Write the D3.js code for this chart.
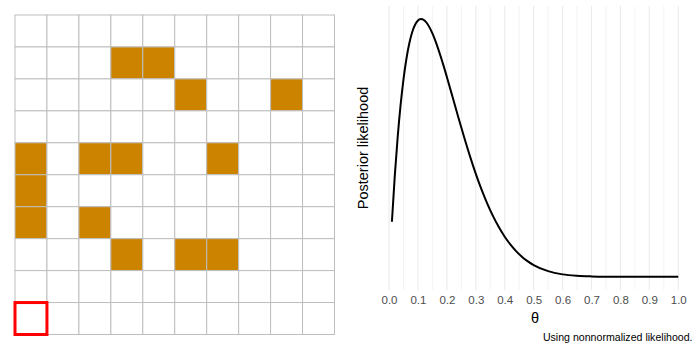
<!DOCTYPE html>
<html>
<head>
<meta charset="utf-8">
<script src="https://cdn.jsdelivr.net/npm/d3@7"></script>
<style>
  body { margin: 0; background: #fff; }
  svg { display: block; font-family: "Liberation Sans", Arial, sans-serif; }
</style>
</head>
<body>
<svg id="chart" width="700" height="350"></svg>
<script>
// grid of draws: rows counted from the top, columns from the left
const gridRows = d3.range(10);
const gridCols = d3.range(10);
const filledCells = [
  [1, 3], [1, 4],
  [2, 5], [2, 8],
  [4, 0], [4, 2], [4, 3], [4, 6],
  [5, 0],
  [6, 0], [6, 2],
  [7, 3], [7, 5], [7, 6]
];
const highlightCell = [9, 0];

// posterior curve (nonnormalized)
const theta = [0.01, 0.02, 0.03, 0.04, 0.05, 0.06, 0.07, 0.08, 0.09, 0.10,
  0.11, 0.12, 0.13, 0.14, 0.15, 0.16, 0.17, 0.18, 0.19, 0.20,
  0.22, 0.24, 0.26, 0.28, 0.30, 0.32, 0.34, 0.36, 0.38, 0.40,
  0.42, 0.44, 0.46, 0.48, 0.50, 0.55, 0.60, 0.65, 0.70, 0.75,
  0.80, 0.85, 0.90, 0.95, 1.00];
const likelihood = [0.00923, 0.01702, 0.02351, 0.02886, 0.03317, 0.03658, 0.03917, 0.04106, 0.04234, 0.04305,
  0.04330, 0.04316, 0.04267, 0.04189, 0.04087, 0.03966, 0.03828, 0.03678, 0.03521, 0.03355,
  0.03014, 0.02671, 0.02338, 0.02022, 0.01729, 0.01463, 0.01224, 0.01013, 0.00830, 0.00672,
  0.00538, 0.00426, 0.00333, 0.00257, 0.00195, 0.00093, 0.00039, 0.00015, 0.00005, 0.00001,
  0.000002, 0, 0, 0, 0];
const xTicks = [0, 0.1, 0.2, 0.3, 0.4, 0.5, 0.6, 0.7, 0.8, 0.9, 1.0];
const xMinor = [0.05, 0.15, 0.25, 0.35, 0.45, 0.55, 0.65, 0.75, 0.85, 0.95];

const svg = d3.select("#chart");

// ---- left panel: the grid ----
const gx = d3.scaleBand().domain(gridCols).range([15, 334.5]).padding(0);
const gy = d3.scaleBand().domain(gridRows).range([15, 334.5]).padding(0);

const cells = [];
gridRows.forEach(r => gridCols.forEach(c => {
  const filled = filledCells.some(f => f[0] === r && f[1] === c);
  cells.push({ r, c, filled });
}));

const left = svg.append("g");
left.selectAll("rect.cell")
  .data(cells)
  .join("rect")
  .attr("class", "cell")
  .attr("x", d => gx(d.c))
  .attr("y", d => gy(d.r))
  .attr("width", gx.bandwidth())
  .attr("height", gy.bandwidth())
  .attr("fill", d => d.filled ? "#CC8400" : "#fff")
  .attr("stroke", "#BEBEBE")
  .attr("stroke-width", 1);

left.append("rect")
  .attr("x", gx(highlightCell[1]))
  .attr("y", gy(highlightCell[0]))
  .attr("width", gx.bandwidth())
  .attr("height", gy.bandwidth())
  .attr("fill", "none")
  .attr("stroke", "#FF0000")
  .attr("stroke-width", 3);

// ---- right panel: posterior ----
const x = d3.scaleLinear().domain([-0.0395, 1.0495]).range([377.6, 692.6]);
const y = d3.scaleLinear().domain([0, 0.0433]).range([276.7, 19]);
const panelTop = 6, panelBottom = 290;

const right = svg.append("g");

right.selectAll("line.minor")
  .data(xMinor)
  .join("line")
  .attr("class", "minor")
  .attr("x1", d => x(d)).attr("x2", d => x(d))
  .attr("y1", panelTop).attr("y2", panelBottom)
  .attr("stroke", "#EBEBEB")
  .attr("stroke-width", 0.6);

right.selectAll("line.major")
  .data(xTicks)
  .join("line")
  .attr("class", "major")
  .attr("x1", d => x(d)).attr("x2", d => x(d))
  .attr("y1", panelTop).attr("y2", panelBottom)
  .attr("stroke", "#EBEBEB")
  .attr("stroke-width", 1.1);

const xAxis = d3.axisBottom(x)
  .tickValues(xTicks)
  .tickFormat(d3.format(".1f"))
  .tickSize(0)
  .tickPadding(6);

right.append("g")
  .attr("transform", `translate(0,${panelBottom})`)
  .call(xAxis)
  .call(g => g.select(".domain").remove())
  .call(g => g.selectAll("text")
    .attr("fill", "#4D4D4D")
    .attr("font-size", 11.5)
    .attr("font-family", "Liberation Sans, Arial, sans-serif"));

const line = d3.line()
  .x((d, i) => x(theta[i]))
  .y(d => y(d))
  .curve(d3.curveMonotoneX);

right.append("path")
  .attr("d", line(likelihood))
  .attr("fill", "none")
  .attr("stroke", "#000")
  .attr("stroke-width", 2);

right.append("text")
  .attr("x", x(0.505))
  .attr("y", 323)
  .attr("text-anchor", "middle")
  .attr("font-size", 14.5)
  .attr("fill", "#000")
  .text("θ");

right.append("text")
  .attr("transform", `translate(368,${(panelTop + panelBottom) / 2}) rotate(-90)`)
  .attr("text-anchor", "middle")
  .attr("font-size", 14.5)
  .attr("fill", "#000")
  .text("Posterior likelihood");

right.append("text")
  .attr("x", 692.5)
  .attr("y", 341)
  .attr("text-anchor", "end")
  .attr("font-size", 10.6)
  .attr("fill", "#000")
  .text("Using nonnormalized likelihood.");
</script>
</body>
</html>
